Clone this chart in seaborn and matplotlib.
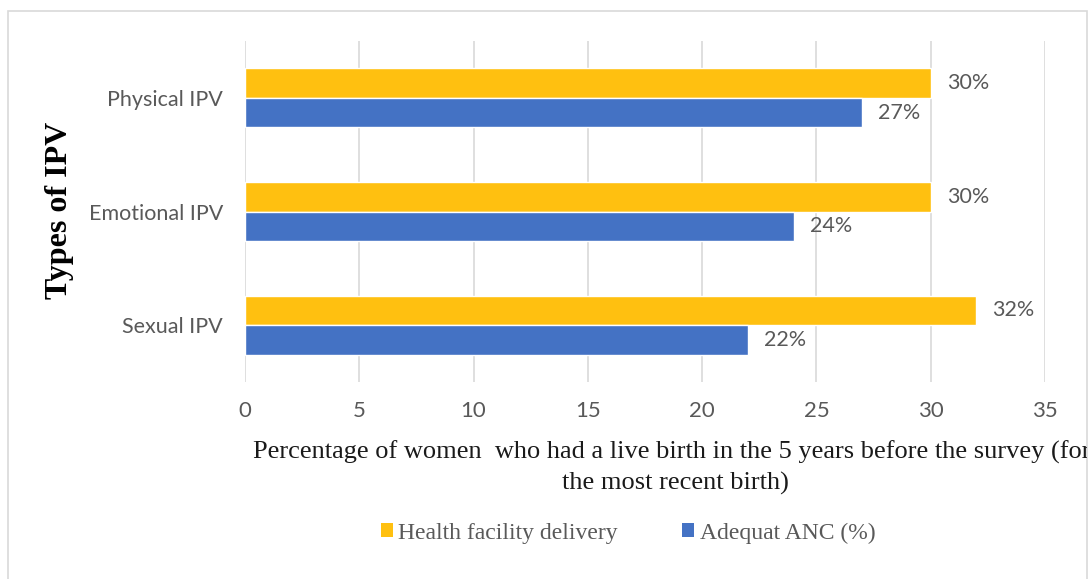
import matplotlib
matplotlib.use("Agg")
import matplotlib.pyplot as plt
from matplotlib.patches import Patch, Rectangle
import pandas as pd
import seaborn as sns

# Data
ipv_types = ["Physical IPV", "Emotional IPV", "Sexual IPV"]
health_facility_delivery = [30, 30, 32]
adequate_anc = [27, 24, 22]
series_names = ["Health facility delivery", "Adequat ANC (%)"]
x_ticks = [0, 5, 10, 15, 20, 25, 30, 35]

colors = ["#FFC010", "#4472C4"]
gray_text = "#595959"

df = pd.DataFrame({
    "type": ipv_types * 2,
    "value": health_facility_delivery + adequate_anc,
    "series": [series_names[0]] * 3 + [series_names[1]] * 3,
})

sns.set_theme(style="white")
plt.rcParams["font.family"] = ["Lato", "DejaVu Sans"]

fig = plt.figure(figsize=(10.89, 5.79), dpi=100)
ax = fig.add_axes([245 / 1089, 1 - 382 / 579, 800 / 1089, 341 / 579])

sns.barplot(data=df, y="type", x="value", hue="series", order=ipv_types,
            hue_order=series_names, palette=colors, width=0.52,
            saturation=1, legend=False, ax=ax, orient="h")

for cont in ax.containers:
    ax.bar_label(cont, labels=[f"{v:.0f}%" for v in cont.datavalues],
                 padding=11.5, color=gray_text, fontsize=15.5)

ax.set_xlim(0, 35)
ax.set_xticks(x_ticks)
ax.set_xticklabels([str(t) for t in x_ticks])
ax.tick_params(axis="x", length=0, pad=14, labelsize=16, labelcolor=gray_text)
ax.tick_params(axis="y", length=0, pad=16, labelsize=15.5, labelcolor=gray_text)
ax.grid(axis="x", color="#D9D9D9", linewidth=1.2)
ax.set_axisbelow(True)
for s in ax.spines.values():
    s.set_visible(False)
ax.set_xlabel("")
ax.set_ylabel("")

# Axis titles
fig.text(60 / 1089, 1 - 210 / 579, "Types of IPV", rotation=90, ha="center",
         va="center", fontsize=23, fontweight="bold", family="Liberation Serif",
         color="black")

frame = Rectangle((8 / 1089, -0.01), 1079 / 1089, 1 - 11 / 579 + 0.01,
                  transform=fig.transFigure, fill=False, edgecolor="#D9D9D9",
                  linewidth=1.2)
fig.patches.append(frame)

t1 = fig.text(253 / 1089, 1 - 452 / 579,
              "Percentage of women  who had a live birth in the 5 years before the survey (for",
              ha="left", va="center", fontsize=19, family="Liberation Serif",
              color="#1a1a1a")
t1.set_clip_path(frame)
t1.set_clip_on(True)
fig.text(675 / 1089, 1 - 483 / 579, "the most recent birth)", ha="center",
         va="center", fontsize=19, family="Liberation Serif", color="#1a1a1a")

handles = [Patch(facecolor=c, edgecolor="none") for c in colors]
fig.legend(handles, series_names, loc="center", bbox_to_anchor=(628 / 1089, 1 - 533 / 579),
           ncol=2, frameon=False, handlelength=0.5, handleheight=0.5,
           handletextpad=0.25, columnspacing=2.7,
           prop={"family": "Liberation Serif", "size": 17}, labelcolor=gray_text)

fig.savefig("out.png", dpi=100)
